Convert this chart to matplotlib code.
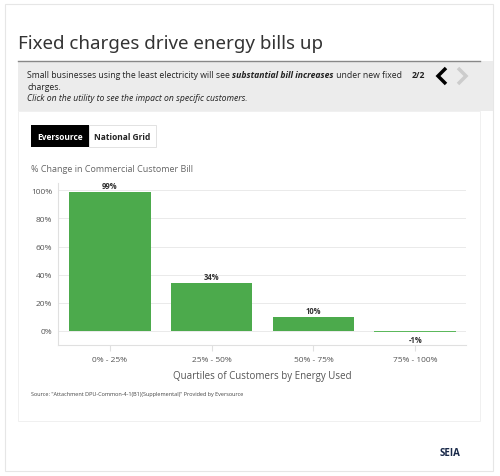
import matplotlib.pyplot as plt
from matplotlib.patches import Rectangle, Polygon

categories = ["0% - 25%", "25% - 50%", "50% - 75%", "75% - 100%"]
values = [99, 34, 10, -1]
labels = ["99%", "34%", "10%", "-1%"]
yticks = [0, 20, 40, 60, 80, 100]

plt.rcParams["font.family"] = ["Open Sans", "DejaVu Sans"]

fig = plt.figure(figsize=(5, 4.77), dpi=100)
W, H = 500, 477
fs = 6.2


def box(x, y, w, h, **kw):
    # pixel coords from top-left
    fig.patches.append(Rectangle((x / W, 1 - (y + h) / H), w / W, h / H,
                                 transform=fig.transFigure, **kw))


def txt(x, y, s, **kw):
    return fig.text(x / W, 1 - y / H, s, **kw)


box(5, 5, 488, 467, facecolor="white", edgecolor="#e6e6e6", lw=0.8)
box(18, 62, 475, 50, facecolor="#ececec", edgecolor="none")
fig.add_artist(plt.Line2D([18 / W, 480 / W], [1 - 62 / H] * 2, color="#888888", lw=1))
box(18, 112, 462, 310, facecolor="white", edgecolor="#eeeeee", lw=0.6)

txt(18, 44, "Fixed charges drive energy bills up", fontsize=13.5, color="#333333", va="center",
    family=["Noto Sans", "DejaVu Sans"])
txt(27, 76, "Small businesses using the least electricity will see ", fontsize=fs, va="center", color="#222222")
txt(27, 88, "charges.", fontsize=fs, va="center", color="#222222")
txt(27, 99, "Click on the utility to see the impact on specific customers.", fontsize=fs,
    va="center", style="italic", color="#222222")
t1 = fig.text(0, 0, "Small businesses using the least electricity will see ", fontsize=fs)
fig.canvas.draw()
w1 = t1.get_window_extent().width
t1.remove()
t2 = txt(27 + w1, 76, "substantial bill increases", fontsize=fs, va="center",
         weight="bold", style="italic", color="#222222")
fig.canvas.draw()
w2 = t2.get_window_extent().width
txt(27 + w1 + w2, 76, " under new fixed", fontsize=fs, va="center", color="#222222")
txt(412, 76, "2/2", fontsize=fs, va="center", weight="bold", color="#222222")
fig.patches.append(Polygon([(446 / W, 1 - 69 / H), (438 / W, 1 - 77 / H), (446 / W, 1 - 85 / H)],
                           closed=False, fill=False, edgecolor="black", lw=2.5,
                           transform=fig.transFigure))
fig.patches.append(Polygon([(458 / W, 1 - 69 / H), (466 / W, 1 - 77 / H), (458 / W, 1 - 85 / H)],
                           closed=False, fill=False, edgecolor="#cccccc", lw=2.5,
                           transform=fig.transFigure))

box(31, 126, 58, 22, facecolor="black", edgecolor="none")
box(89, 126, 67, 22, facecolor="white", edgecolor="#dddddd", lw=0.6)
txt(60, 137, "Eversource", fontsize=6, weight="bold", color="white", ha="center", va="center")
txt(122, 137, "National Grid", fontsize=6, weight="bold", color="#222222", ha="center", va="center")
txt(31, 169, "% Change in Commercial Customer Bill", fontsize=6.5, color="#666666", va="center")

ax = fig.add_axes([58 / W, 0.2746, 408 / W, 0.339])
ax.set_zorder(5)
ax.patch.set_alpha(0)
colors = ["#4caa4c" if v >= 0 else "#5cb85c" for v in values]
x = range(len(categories))
ax.bar(x, values, width=0.8, color=colors)
for i, (v, l) in enumerate(zip(values, labels)):
    ax.text(i, v + 1.5 if v >= 0 else v - 2, l, ha="center", va="bottom" if v >= 0 else "top",
            fontsize=5.5, weight="bold", color="#333333")
ax.set_xlim(-0.51, 3.5)
ax.set_ylim(-10, 105)
ax.set_yticks(yticks)
ax.set_yticklabels([f"{t}%" for t in yticks], fontsize=6, color="#555555")
ax.set_xticks(list(x))
ax.set_xticklabels(categories, fontsize=6, color="#555555")
ax.tick_params(axis="y", length=0, pad=4)
ax.tick_params(axis="x", length=4, color="#e0e0e0", pad=4)
ax.grid(axis="y", color="#e6e6e6", lw=0.6)
ax.set_axisbelow(True)
for s in ["top", "right"]:
    ax.spines[s].set_visible(False)
for s in ["left", "bottom"]:
    ax.spines[s].set_color("#e0e0e0")
ax.set_xlabel("Quartiles of Customers by Energy Used", fontsize=7, color="#555555", labelpad=5)

txt(31, 395, "Source: \"Attachment DPU-Common-4-1(B1)(Supplemental)\" Provided by Eversource",
    fontsize=4, color="#444444", va="center")
txt(440, 454, "SEIA", fontsize=7, weight="bold", color="#1a2a4a", va="center")

fig.savefig("out.png", dpi=100)
